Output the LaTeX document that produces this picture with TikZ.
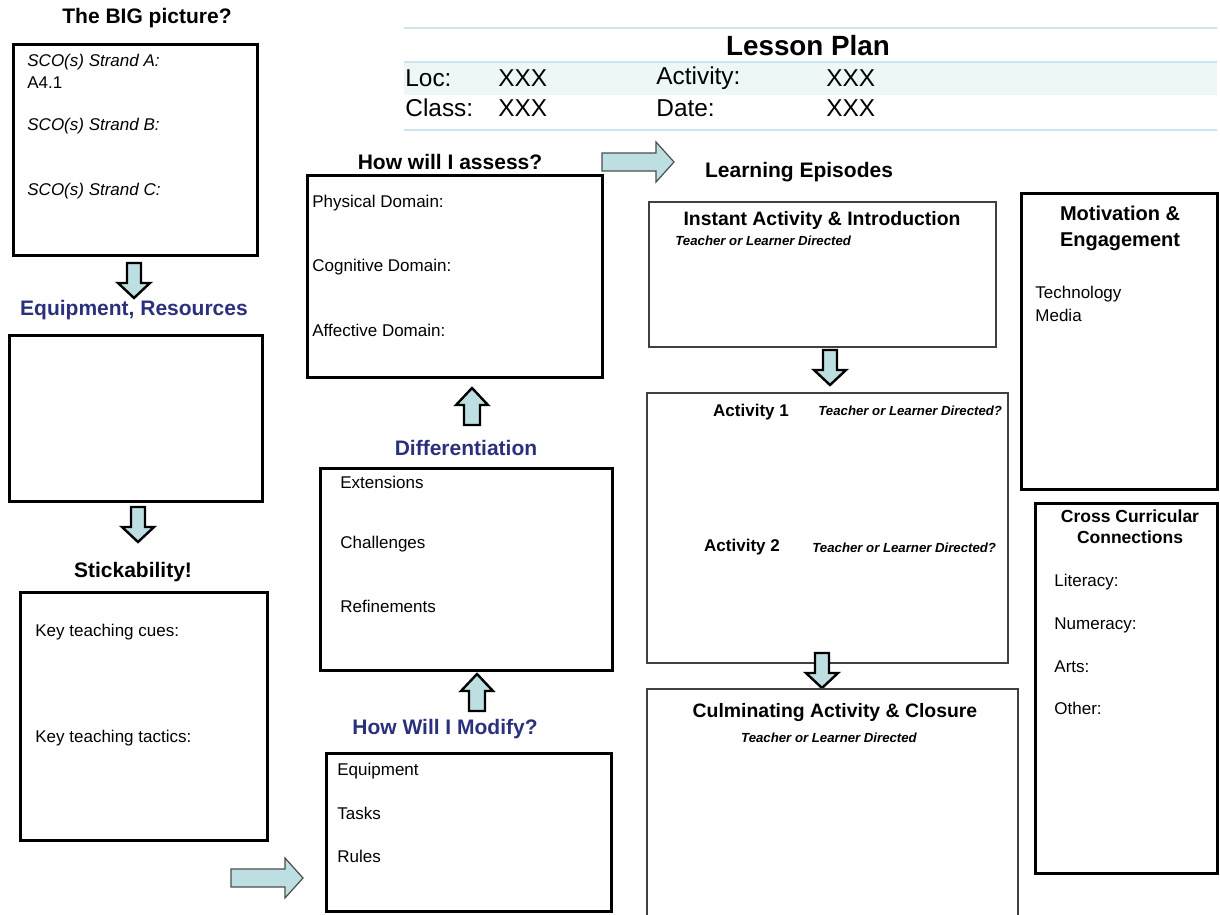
\documentclass[tikz,border=0pt]{standalone}
\usepackage{fontspec}
\setmainfont{Liberation Sans}
\definecolor{navy}{RGB}{43,48,125}
\definecolor{arrowfill}{RGB}{189,223,226}
\definecolor{tableline}{RGB}{205,230,236}
\definecolor{rowfill}{RGB}{238,247,247}

\tikzset{
  box/.style={line width=1.5pt},
  thinbox/.style={line width=0.75pt, draw=black!75},
  head/.style={font=\fontsize{10.5}{12}\selectfont\bfseries},
  bluehead/.style={head, text=navy},
  item/.style={anchor=west, inner sep=0pt, font=\fontsize{8.5}{10}\selectfont},
  strand/.style={item, font=\fontsize{8.5}{10}\selectfont\itshape},
  who/.style={inner sep=0pt, font=\fontsize{6.6}{8}\selectfont\bfseries\itshape},
  episode/.style={font=\fontsize{9.7}{11}\selectfont\bfseries},
  row/.style={anchor=west, inner sep=0pt, font=\fontsize{12.2}{14}\selectfont},
  blockarrow/.style={fill=arrowfill, draw=black, line width=1.2pt, line join=miter},
  sidearrow/.style={fill=arrowfill, draw=black!70, line width=0.6pt},
  arrowdown/.pic={\draw[blockarrow] (-7,0) -- (7,0) -- (7,20) -- (16,20) -- (0,35) -- (-16,20) -- (-7,20) -- cycle;},
  arrowup/.pic={\draw[blockarrow] (0,0) -- (16,17) -- (8,17) -- (8,37) -- (-8,37) -- (-8,17) -- (-16,17) -- cycle;},
  arrowright/.pic={\draw[sidearrow] (0,-9) -- (54,-9) -- (54,-20) -- (72,0) -- (54,20) -- (54,9) -- (0,9) -- cycle;}
}

\begin{document}
\begin{tikzpicture}[x=0.5pt, y=-0.5pt]
  \clip (0,0) rectangle (1220,915);

  % Lesson plan header
  \fill[rowfill] (404,62) rectangle (1217,95);
  \foreach \y in {28,62,130}
    \draw[tableline, line width=1pt] (404,\y) -- (1217,\y);
  \node[font=\fontsize{13.9}{16}\selectfont\bfseries] (lesson) at (808,46) {Lesson Plan};
  \node[row] (loc) at (405,78) {Loc:};
  \node[row] (locval) at (498,78) {XXX};
  \node[row] (act) at (656,78) {Activity:};
  \node[row] (actval) at (826,78) {XXX};
  \node[row] (class) at (405,108) {Class:};
  \node[row] (classval) at (498,108) {XXX};
  \node[row] (date) at (656,108) {Date:};
  \node[row] (dateval) at (826,108) {XXX};

  % Left column
  \node[head] (bigpic) at (147,18) {The BIG picture?};
  \draw[box] (13,45) rectangle (257,255);
  \node[strand] (strandA) at (27,62) {SCO(s) Strand A:};
  \node[item] (sco) at (27,83) {A4.1};
  \node[strand] (strandB) at (27,126) {SCO(s) Strand B:};
  \node[strand] (strandC) at (27,191) {SCO(s) Strand C:};
  \pic at (134,263) {arrowdown};
  \node[bluehead] (equip) at (134,310) {Equipment, Resources};
  \draw[box] (9,335) rectangle (262,501);
  \pic at (138,507) {arrowdown};
  \node[head] (stick) at (133,572) {Stickability!};
  \draw[box] (20,592) rectangle (267,840);
  \node[item] (cues) at (35,632) {Key teaching cues:};
  \node[item] (tactics) at (35,738) {Key teaching tactics:};
  \pic at (231,878) {arrowright};

  % Middle column
  \node[head] (assess) at (450,162) {How will I assess?};
  \draw[box] (307,175) rectangle (602,377);
  \node[item] (phys) at (312,203) {Physical Domain:};
  \node[item] (cogn) at (312,267) {Cognitive Domain:};
  \node[item] (affe) at (312,330) {Affective Domain:};
  \pic at (602,162) {arrowright};
  \pic at (472,388) {arrowup};
  \node[bluehead] (diff) at (466,448) {Differentiation};
  \draw[box] (320,468) rectangle (612,670);
  \node[item] (ext) at (340,482) {Extensions};
  \node[item] (chal) at (340,544) {Challenges};
  \node[item] (refi) at (340,606) {Refinements};
  \pic at (477,674) {arrowup};
  \node[bluehead] (modify) at (445,729) {How Will I Modify?};
  \draw[box] (326,753) rectangle (611,911);
  \node[item] (gear) at (337,771) {Equipment};
  \node[item] (tasks) at (337,813) {Tasks};
  \node[item] (rules) at (337,856) {Rules};

  % Learning episodes
  \node[head] (episodes) at (799,172) {Learning Episodes};
  \draw[thinbox] (649,202) rectangle (996,347);
  \node[episode] (instant) at (822,220) {Instant Activity \& Introduction};
  \node[who, anchor=west] (instwho) at (675,241) {Teacher or Learner Directed};
  \pic at (830,350) {arrowdown};
  \draw[thinbox] (647,393) rectangle (1008,663);
  \node[item, font=\fontsize{8.5}{10}\selectfont\bfseries, anchor=center] (act1) at (751,412) {Activity 1};
  \node[who, anchor=west] (act1who) at (818,411) {Teacher or Learner Directed?};
  \node[item, font=\fontsize{8.5}{10}\selectfont\bfseries, anchor=center] (act2) at (742,547) {Activity 2};
  \node[who, anchor=west] (act2who) at (812,548) {Teacher or Learner Directed?};
  \pic at (822,653) {arrowdown};
  \draw[thinbox] (647,689) rectangle (1018,930);
  \node[episode] (closure) at (835,713) {Culminating Activity \& Closure};
  \node[who] (closwho) at (829,738) {Teacher or Learner Directed};

  % Right column
  \draw[box] (1021,193) rectangle (1217.5,489);
  \node[font=\fontsize{10}{13}\selectfont\bfseries, align=center] (motiv) at (1120,228) {Motivation \&\\Engagement};
  \node[item] (tech) at (1035,294) {Technology};
  \node[item] (media) at (1035,315) {Media};
  \draw[box] (1035,503) rectangle (1217,873);
  \node[font=\fontsize{8.75}{10.5}\selectfont\bfseries, align=center] (cross) at (1130,527) {Cross Curricular\\Connections};
  \node[item] (lit) at (1054,582) {Literacy:};
  \node[item] (num) at (1054,625) {Numeracy:};
  \node[item] (arts) at (1054,667) {Arts:};
  \node[item] (other) at (1054,708) {Other:};
\end{tikzpicture}
\end{document}
